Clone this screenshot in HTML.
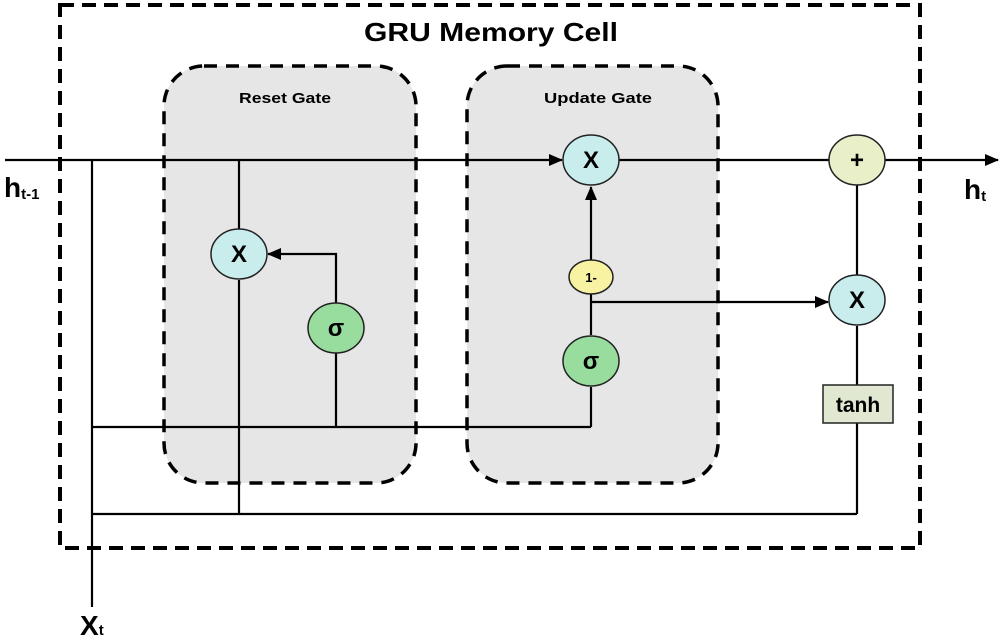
<!DOCTYPE html>
<html><head><style>
html,body{margin:0;padding:0;background:#fff;}
svg text{font-family:"Liberation Sans",sans-serif;font-weight:bold;}
</style></head><body>
<svg width="1005" height="639" viewBox="0 0 1005 639" xmlns="http://www.w3.org/2000/svg">
<defs>
<marker id="b" markerWidth="14" markerHeight="12" refX="13" refY="6" orient="auto" markerUnits="userSpaceOnUse">
<path d="M0,0 L14,6 L0,12 z" fill="#000"/></marker>
</defs>
<rect x="60" y="5" width="860" height="543" fill="none" stroke="#000" stroke-width="4" stroke-dasharray="14,8"/>
<rect x="164" y="66" width="252" height="417" rx="40" fill="#e6e6e6" stroke="#000" stroke-width="3.5" stroke-dasharray="13,9"/>
<rect x="467" y="66" width="251" height="417" rx="40" fill="#e6e6e6" stroke="#000" stroke-width="3.5" stroke-dasharray="13,9"/>
<text x="491" y="41" font-size="26" text-anchor="middle" textLength="254" lengthAdjust="spacingAndGlyphs">GRU Memory Cell</text>
<text x="285" y="103" font-size="15" text-anchor="middle" textLength="92" lengthAdjust="spacingAndGlyphs">Reset Gate</text>
<text x="598" y="103" font-size="15" text-anchor="middle" textLength="108" lengthAdjust="spacingAndGlyphs">Update Gate</text>
<g stroke="#000" stroke-width="2.2" fill="none">
<line x1="5" y1="160" x2="562" y2="160" marker-end="url(#b)"/>
<line x1="619" y1="160" x2="829" y2="160"/>
<line x1="885" y1="160" x2="998" y2="160" marker-end="url(#b)"/>
<line x1="92" y1="160" x2="92" y2="607"/>
<line x1="92" y1="427" x2="591" y2="427"/>
<line x1="591" y1="427" x2="591" y2="387"/>
<line x1="239" y1="160" x2="239" y2="229"/>
<line x1="239" y1="280" x2="239" y2="514"/>
<line x1="92" y1="514" x2="857" y2="514"/>
<line x1="857" y1="514" x2="857" y2="422"/>
<polyline points="336,427 336,254 268,254" marker-end="url(#b)"/>
<line x1="591" y1="335" x2="591" y2="286"/>
<line x1="591" y1="268" x2="591" y2="187" marker-end="url(#b)"/>
<line x1="591" y1="302" x2="828" y2="302" marker-end="url(#b)"/>
<line x1="857" y1="185" x2="857" y2="275"/>
<line x1="857" y1="326" x2="857" y2="386"/>
</g>
<g stroke="#222" stroke-width="1.5">
<ellipse cx="591" cy="160" rx="28" ry="25" fill="#c9ecec"/>
<ellipse cx="857" cy="160" rx="28" ry="25" fill="#e8efc9"/>
<ellipse cx="239" cy="254" rx="28" ry="25" fill="#c9ecec"/>
<ellipse cx="336" cy="328" rx="28" ry="25" fill="#98dd9e"/>
<ellipse cx="591" cy="361" rx="28" ry="25" fill="#98dd9e"/>
<ellipse cx="591" cy="277" rx="22" ry="17" fill="#f7f3a2"/>
<ellipse cx="857" cy="300" rx="28" ry="25" fill="#c9ecec"/>
<rect x="823" y="385" width="70" height="38" fill="#e0e8d2"/>
</g>
<g font-size="24" text-anchor="middle">
<text x="591" y="168">X</text>
<text x="239" y="262">X</text>
<text x="857" y="308">X</text>
<text x="857" y="168">+</text>
<text x="336" y="336">σ</text>
<text x="591" y="369">σ</text>
</g>
<text x="591" y="282" font-size="13" text-anchor="middle">1-</text>
<text x="858" y="412" font-size="21" text-anchor="middle">tanh</text>
<text x="4" y="197" font-size="28">h<tspan font-size="15" dy="2">t-1</tspan></text>
<text x="964" y="199" font-size="28">h<tspan font-size="15" dy="2">t</tspan></text>
<text x="80" y="635" font-size="28">X<tspan font-size="15">t</tspan></text>
</svg>
</body></html>
